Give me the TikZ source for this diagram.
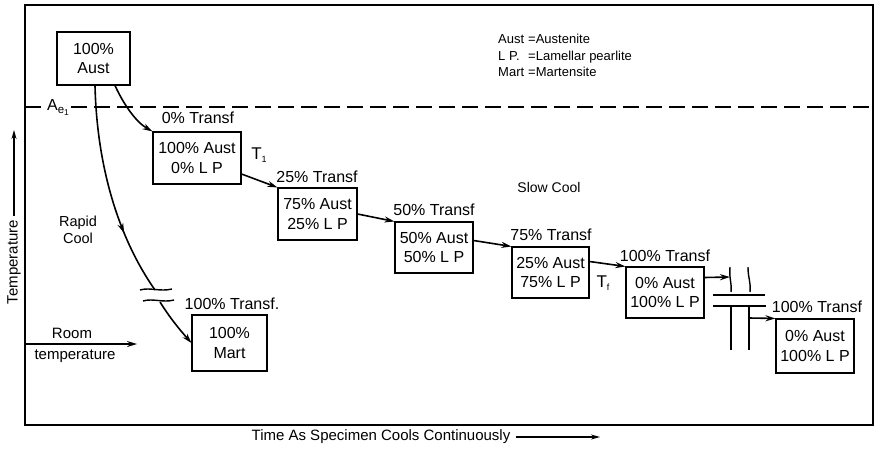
\documentclass[tikz,border=0pt]{standalone}
\usepackage{fontspec}
\setmainfont{Liberation Sans}
\usetikzlibrary{arrows.meta,decorations.markings,calc}
\begin{document}
\begin{tikzpicture}[x=1pt,y=-1pt,
  box/.style={draw,line width=1.1pt,align=center,inner sep=0pt,
    font=\fontsize{16}{19.5}\selectfont},
  lbl/.style={inner sep=0pt,font=\fontsize{16}{18}\selectfont},
  small/.style={inner sep=0pt,align=center,font=\fontsize{14.5}{17}\selectfont},
  conn/.style={line width=1.6pt,-{Stealth[length=10pt,width=6pt]}},
  plain/.style={line width=1.4pt},
  midarrow/.style={postaction={decorate},decoration={markings,
    mark=at position #1 with {\arrow{Stealth[length=10pt,width=6pt]}}}}]
\useasboundingbox (0,0) rectangle (879,448);
% frame
\draw[line width=2pt] (25,5) rectangle (873,425);
% dashed Ae1 line
\coordinate (dl) at (25,107);
\coordinate (dr) at (873,107);
\draw[line width=1.4pt,dash pattern=on 16pt off 7pt] (dl) -- (dr);
\node[fill=white,inner sep=1pt,font=\fontsize{16}{18}\selectfont] (ae) at (58,107)
  {A\raisebox{-3pt}{\fontsize{11.5}{11}\selectfont e\raisebox{-2pt}{\fontsize{8.5}{8}\selectfont 1}}};
% legend
\node[anchor=west,inner sep=0pt,font=\fontsize{13}{16.5}\selectfont] (leg) at (498,57)
  {\begin{tabular}{@{}l@{\hspace{4pt}}l@{}}Aust &=Austenite\\ L P. &=Lamellar pearlite\\ Mart &=Martensite\end{tabular}};
% boxes
\node[box,minimum width=73pt,minimum height=53pt] (b1) at (93.5,58.5) {100\%\\Aust};
\node[box,minimum width=88pt,minimum height=52pt] (b2) at (197,158) {100\% Aust\\0\% L P};
\node[box,minimum width=79pt,minimum height=52pt] (b3) at (317.5,214) {75\% Aust\\25\% L P};
\node[box,minimum width=78pt,minimum height=51pt] (b4) at (434,247.5) {50\% Aust\\50\% L P};
\node[box,minimum width=77pt,minimum height=51pt] (b5) at (550.5,272.5) {25\% Aust\\75\% L P};
\node[box,minimum width=78pt,minimum height=51pt] (b6) at (665,292.5) {0\% Aust\\100\% L P};
\node[box,minimum width=78pt,minimum height=54pt] (b7) at (815,346) {0\% Aust\\100\% L P};
\node[box,minimum width=75pt,minimum height=56pt] (mart) at (229.5,343) {100\%\\Mart};
% labels
\node[lbl] (l0) at (198,118) {0\% Transf};
\node[lbl] (l25) at (317,177) {25\% Transf};
\node[lbl] (l50) at (434,210) {50\% Transf};
\node[lbl] (l75) at (551,235) {75\% Transf};
\node[lbl] (l100a) at (665,256) {100\% Transf};
\node[lbl] (l100b) at (817,307) {100\% Transf};
\node[lbl] (lm) at (232,304) {100\% Transf.};
\node[lbl,font=\fontsize{17}{18}\selectfont] (t1) at (259,155) {T\raisebox{-3pt}{\fontsize{9}{9}\selectfont 1}};
\node[lbl,font=\fontsize{17}{18}\selectfont] (tf) at (603,283) {T\raisebox{-3pt}{\fontsize{9}{9}\selectfont f}};
\node[small,font=\fontsize{14}{17}\selectfont] (slow) at (549,187) {Slow Cool};
\node[small,font=\fontsize{14.5}{17}\selectfont] (rapid) at (78,230) {Rapid\\Cool};
\node[small,font=\fontsize{15}{17}\selectfont] (room) at (72,333) {Room};
\node[small,font=\fontsize{15}{17}\selectfont] (roomt) at (75,356) {temperature};
% axis labels
\node[small,font=\fontsize{15}{17}\selectfont,rotate=90] (tmp) at (14,262) {Temperature};
\coordinate (tarr) at (14,130);
\draw[line width=1.2pt,-{Stealth[length=9pt,width=5pt]},shorten <=4pt] (tmp.east) -- (tarr);
\node[small,font=\fontsize{15}{17}\selectfont] (tl) at (381,437) {Time As Specimen Cools Continuously};
\coordinate (tend) at (600,437);
\draw[line width=1.2pt,-{Stealth[length=9pt,width=5pt]}] ([xshift=5pt]tl.east) -- (tend);
% room temperature arrow
\coordinate (rt0) at (25,344);
\coordinate (rt1) at (137,344);
\draw[line width=1.6pt,-{Stealth[length=10pt,width=6pt]}] (rt0) -- (rt1);
% slow cool chain
\draw[conn] ([xshift=21.5pt]b1.south) .. controls (124,105) and (136,122) .. (b2.north west);
\draw[conn] ([yshift=-16pt]b2.east) -- (b3.north west);
\draw[conn] (b3.east) -- (b4.north west);
\draw[conn] ([yshift=7pt]b4.east) -- (b5.north west);
\draw[conn] ([yshift=11pt]b5.east) -- (b6.north west);
% break on slow path
\coordinate (br0) at (730,277);
\draw[conn] ([yshift=15pt]b6.east) -- (br0);
\coordinate (v1a) at (730,267); \coordinate (v1b) at (731,292);
\coordinate (v2a) at (748,267); \coordinate (v2b) at (750,292);
\coordinate (h1a) at (713,295); \coordinate (h1b) at (765,295);
\coordinate (h2a) at (713,306); \coordinate (h2b) at (766,306);
\coordinate (v3a) at (731,306); \coordinate (v3b) at (731,350);
\coordinate (v4a) at (749,306); \coordinate (v4b) at (749,350);
\draw[plain] (v1a) .. controls (729,280) and (732,282) .. (v1b);
\draw[plain] (v2a) .. controls (748,278) and (751,282) .. (v2b);
\draw[plain] (h1a) -- (h1b);
\draw[plain] (h2a) -- (h2b);
\draw[plain] (v3a) -- (v3b);
\draw[plain] (v4a) -- (v4b);
\coordinate (br1) at (749,318);
\draw[conn] (br1) -- (b7.north west);
% rapid cool
\coordinate (rb1) at (155,290);
\coordinate (rb2) at (160,302);
\draw[line width=1.6pt,midarrow=0.7] ([xshift=1.5pt]b1.south) .. controls (97,170) and (120,240) .. (rb1);
\coordinate (m1a) at (140,290); \coordinate (m1b) at (172,289);
\coordinate (m2a) at (143,301); \coordinate (m2b) at (174,300);
\draw[plain] (m1a) .. controls (150,287) and (160,292) .. (m1b);
\draw[plain] (m2a) .. controls (153,298) and (163,303) .. (m2b);
\draw[conn] (rb2) .. controls (170,318) and (180,330) .. (mart.west);
\end{tikzpicture}
\end{document}
